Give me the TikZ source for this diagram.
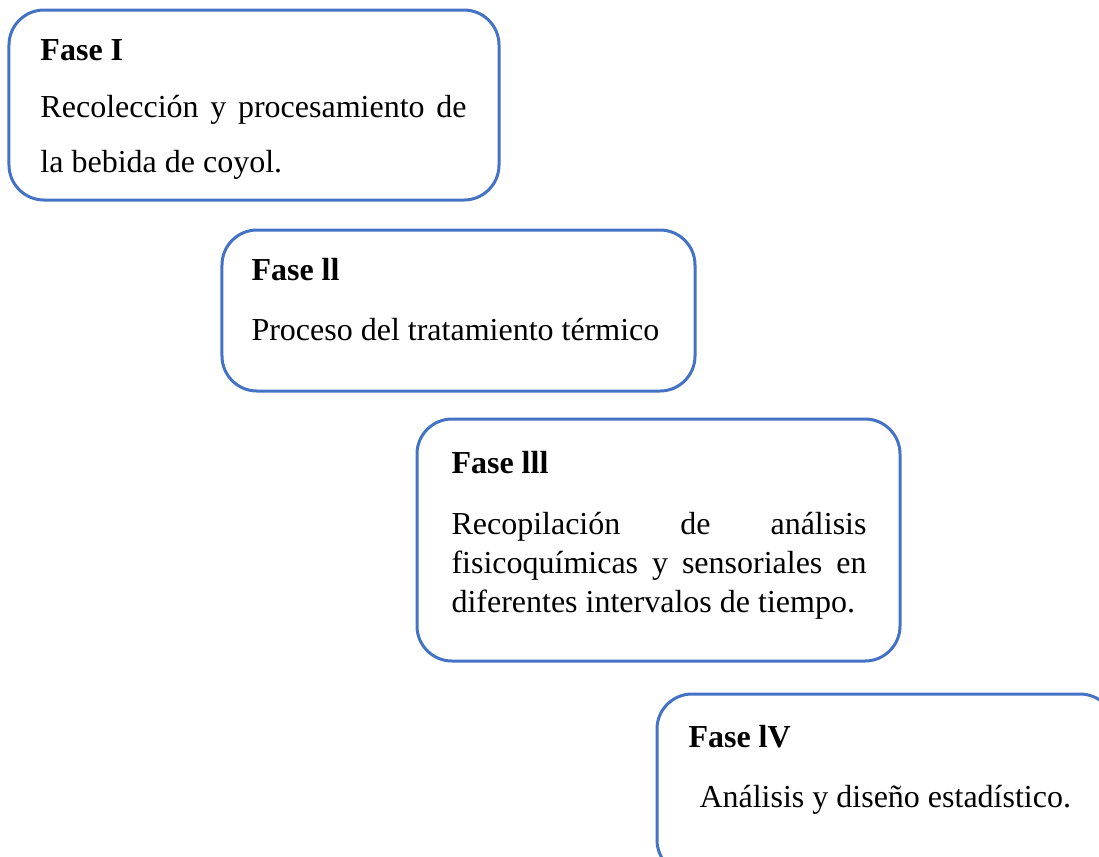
\documentclass[tikz,border=0pt]{standalone}
\usepackage{fontspec}
\setmainfont{Liberation Serif}
\usepackage{tikz}
\usetikzlibrary{positioning}
\definecolor{azulfase}{HTML}{4472C4}

\begin{document}
\begin{tikzpicture}[x=0.4pt, y=-0.4pt,
	fase/.style={draw=azulfase, line width=1.2pt, rounded corners=14pt, rectangle, inner sep=0pt},
	titulo/.style={anchor=base west, inner sep=0pt, font=\fontsize{12.8}{15}\selectfont\bfseries},
	linea/.style={anchor=base west, inner sep=0pt, font=\fontsize{12.8}{15}\selectfont}]
	\useasboundingbox (0,0) rectangle (1099,856);
	\clip (0,0) rectangle (1099,856);
		% Cajas
		\node [fase, minimum width=196pt, minimum height=76pt] (f1) at (254,105) {};
		\node [fase, minimum width=189.2pt, minimum height=64.4pt] (f2) at (458.5,310.5) {};
		\node [fase, minimum width=193.2pt, minimum height=96.8pt] (f3) at (658.5,540) {};
		\node [fase, minimum width=183.2pt, minimum height=72.4pt] (f4) at (886,784.5) {};
		% Fase I
		\node [titulo] (t1) at (40,60) {Fase I};
		\node [linea] (l1a) at (40,117) {\makebox[170.4pt][s]{Recolección y procesamiento de}};
		\node [linea] (l1b) at (40,172) {la bebida de coyol.};
		% Fase II
		\node [titulo] (t2) at (251,280) {Fase ll};
		\node [linea] (l2a) at (251,340) {Proceso del tratamiento térmico};
		% Fase III
		\node [titulo] (t3) at (451,473) {Fase lll};
		\node [linea] (l3a) at (451,534) {\makebox[166pt][s]{Recopilación de análisis}};
		\node [linea] (l3b) at (451,573) {\makebox[166pt][s]{fisicoquímicas y sensoriales en}};
		\node [linea] (l3c) at (451,612) {diferentes intervalos de tiempo.};
		% Fase IV
		\node [titulo] (t4) at (688,747) {Fase lV};
		\node [linea] (l4a) at (699,807) {Análisis y diseño estadístico.};
\end{tikzpicture}
\end{document}
